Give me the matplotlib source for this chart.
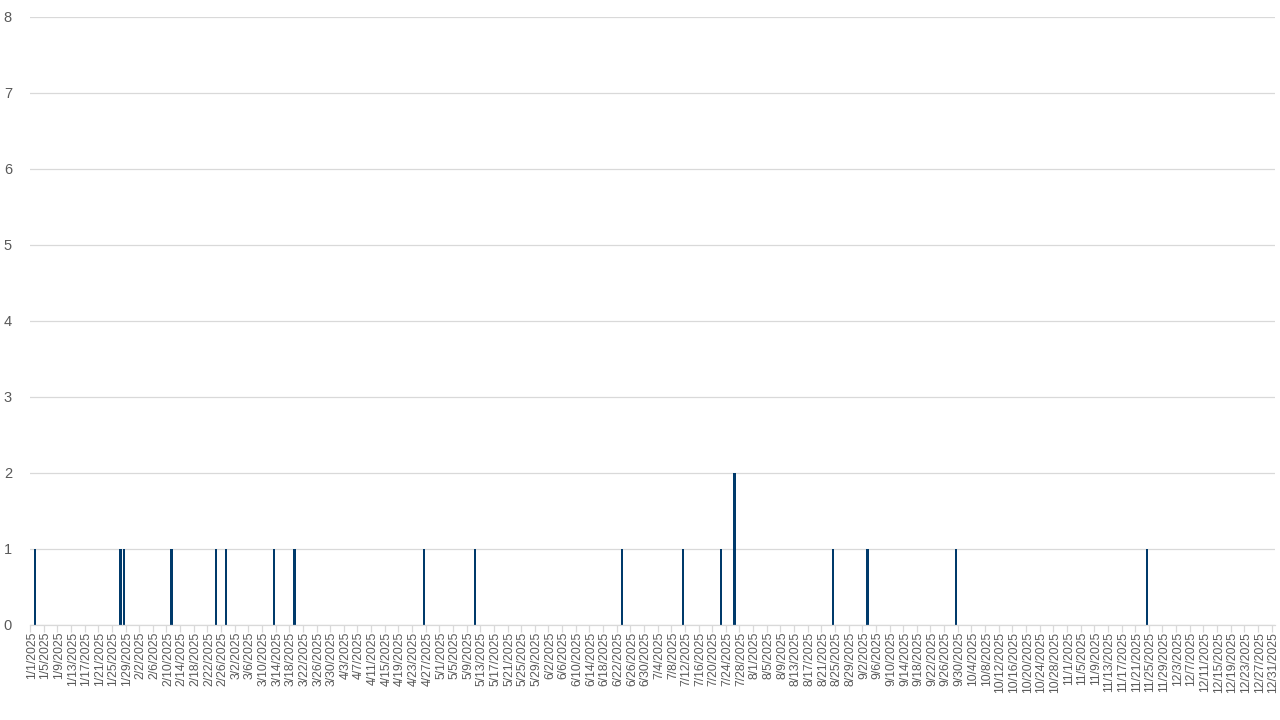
import matplotlib
matplotlib.use("Agg")
import matplotlib.pyplot as plt
import pandas as pd
import numpy as np

# ---- data ----
event_dates = ["2025-01-02", "2025-01-27", "2025-01-28", "2025-02-11", "2025-02-24",
               "2025-02-27", "2025-03-13", "2025-03-19", "2025-04-26", "2025-05-11",
               "2025-06-23", "2025-07-11", "2025-07-22", "2025-07-26", "2025-08-24",
               "2025-09-03", "2025-09-29", "2025-11-24"]
event_counts = [1, 1, 1, 1, 1,
                1, 1, 1, 1, 1,
                1, 1, 1, 2, 1,
                1, 1, 1]
start_date = "2025-01-01"
end_date = "2025-12-31"
label_every = 4
y_ticks = [0, 1, 2, 3, 4, 5, 6, 7, 8]

days = pd.date_range(start_date, end_date, freq="D")
series = pd.Series(event_counts, index=pd.to_datetime(event_dates)).reindex(days, fill_value=0)
categories = [f"{d.month}/{d.day}/{d.year}" for d in days]

plt.rcParams["font.family"] = ["Liberation Sans", "DejaVu Sans"]

fig = plt.figure(figsize=(12.8, 7.2), dpi=100)
ax = fig.add_axes([30 / 1280, 95 / 720, 1245 / 1280, 608 / 720])

x = np.arange(len(categories))
ax.bar(x, series.values, width=0.7, color="#003A6B", zorder=3)

ax.set_xlim(-0.5, len(categories) - 0.5)
ax.set_ylim(0, 8)
ax.set_yticks(y_ticks)
ax.set_yticklabels([str(v) for v in y_ticks])
ax.grid(axis="y", color="#D9D9D9", linewidth=0.9, zorder=0)
ax.grid(axis="x", visible=False)

lab_pos = x[::label_every]
ax.set_xticks(lab_pos)
ax.set_xticklabels([categories[i] for i in lab_pos], rotation=90, ha="center", va="top")
ax.set_xticks(np.arange(-0.5, len(categories), label_every), minor=True)
ax.tick_params(axis="x", which="major", length=0, pad=5, labelsize=8.8, labelcolor="#595959")
ax.tick_params(axis="x", which="minor", length=5, width=0.9, color="#D9D9D9")
ax.tick_params(axis="y", length=0, pad=13, labelsize=10.5, labelcolor="#595959")

for s in ["top", "right", "left"]:
    ax.spines[s].set_visible(False)
ax.spines["bottom"].set_color("#D9D9D9")
ax.spines["bottom"].set_linewidth(0.9)
ax.spines["bottom"].set_zorder(4)

fig.savefig("out.png", dpi=100, facecolor="white")
